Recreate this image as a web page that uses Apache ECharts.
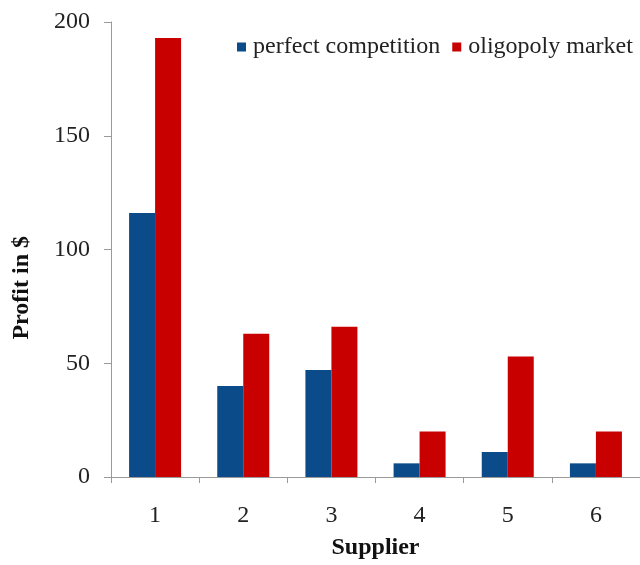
<!DOCTYPE html>
<html>
<head>
<meta charset="utf-8">
<script src="https://cdn.jsdelivr.net/npm/echarts@6/dist/echarts.min.js"></script>
<style>
  html, body { margin: 0; padding: 0; background: #ffffff; }
  #chart { width: 640px; height: 565px; }
</style>
</head>
<body>
<div id="chart"></div>
<script>
// Supplier profits under two market structures
const suppliers = ['1', '2', '3', '4', '5', '6'];
const perfectCompetition = [116, 40, 47, 6, 11, 6];
const oligopolyMarket = [193, 63, 66, 20, 53, 20];
const yTicks = { min: 0, max: 200, interval: 50 };

const serif = '"Liberation Serif", "Times New Roman", serif';
const axisGray = '#9a9a9a';

const chart = echarts.init(document.getElementById('chart'));
chart.setOption({
  backgroundColor: '#ffffff',
  animation: false,
  grid: { left: 111, right: 0, top: 22, bottom: 84 },
  legend: {
    top: 35,
    left: 237,
    width: 403,
    padding: 0,
    itemWidth: 9,
    itemHeight: 9,
    itemGap: 12,
    icon: 'rect',
    textStyle: { fontFamily: serif, fontSize: 24, color: '#222', padding: [0, 0, 0, 2] },
    data: ['perfect competition', 'oligopoly market']
  },
  xAxis: {
    type: 'category',
    data: suppliers,
    name: 'Supplier',
    nameLocation: 'middle',
    nameGap: 59,
    nameTextStyle: { fontFamily: serif, fontSize: 24, fontWeight: 'bold', color: '#111' },
    axisLine: { lineStyle: { color: axisGray, width: 1 } },
    axisTick: { show: true, length: 6, lineStyle: { color: axisGray } },
    axisLabel: { fontFamily: serif, fontSize: 24, color: '#222', margin: 27 }
  },
  yAxis: {
    type: 'value',
    min: yTicks.min,
    max: yTicks.max,
    interval: yTicks.interval,
    axisLine: { show: true, lineStyle: { color: axisGray, width: 1 } },
    axisTick: { show: true, length: 7, lineStyle: { color: axisGray } },
    splitLine: { show: false },
    axisLabel: { fontFamily: serif, fontSize: 24, color: '#222', margin: 21 }
  },
  graphic: [{
    type: 'text',
    left: 10,
    top: 236,
    rotation: Math.PI / 2,
    style: {
      text: 'Profit in $',
      font: 'bold 24px ' + serif,
      fill: '#111'
    }
  }],
  series: [
    {
      name: 'perfect competition',
      type: 'bar',
      data: perfectCompetition,
      barWidth: 26,
      barGap: '0%',
      itemStyle: { color: '#0b4b8a' }
    },
    {
      name: 'oligopoly market',
      type: 'bar',
      data: oligopolyMarket,
      barWidth: 26,
      barGap: '0%',
      itemStyle: { color: '#c80000' }
    }
  ]
});
</script>
</body>
</html>
